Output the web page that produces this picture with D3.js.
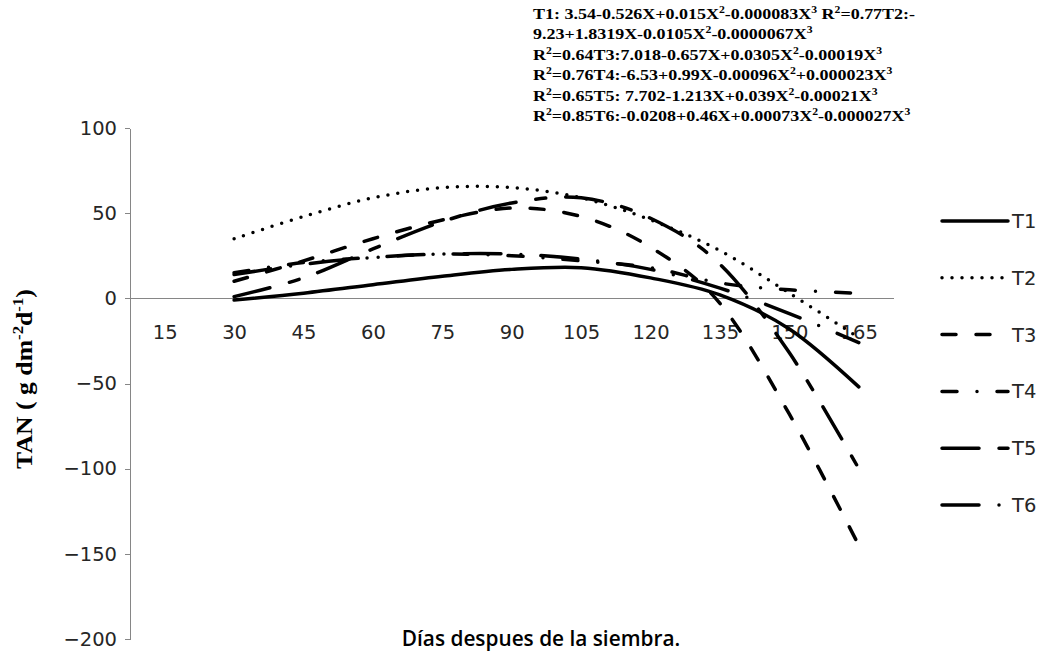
<!DOCTYPE html>
<html>
<head>
<meta charset="utf-8">
<script src="https://cdn.jsdelivr.net/npm/d3@7"></script>
<style>
body { margin: 0; background: #fff; }
svg { display: block; }
.axis path, .axis line { stroke: #868686; shape-rendering: crispEdges; }
.axis text { font-family: "DejaVu Sans", sans-serif; font-size: 19.5px; fill: #262626; }
</style>
</head>
<body>
<svg id="chart" width="1045" height="656"></svg>
<script>
// categories (dias despues de la siembra)
const dias = ['15', '30', '45', '60', '75', '90', '105', '120', '135', '150', '165'];
const yTicks = [-200, -150, -100, -50, 0, 50, 100];

// TAN values, first category has no data
const T1 = [null, -1, 3, 8, 13, 17, 18, 12, 2, -18, -52];
const T2 = [null, 35, 48, 59, 65, 65, 59, 46, 28, 3, -23];
const T3 = [null, 10, 22, 35, 46, 53, 48, 30, -3, -68, -145];
const T4 = [null, 15, 21, 24, 26, 25, 22, 18, 9, 5, 3];
const T5 = [null, 1, 12, 29, 45, 56, 59, 47, 20, -32, -100];
const T6 = [null, 14, 20, 24, 26, 26, 23, 17, 6, -9, -26];

const seriesNames = ['T1', 'T2', 'T3', 'T4', 'T5', 'T6'];
const seriesValues = [T1, T2, T3, T4, T5, T6];
const dashes = ['none', '0 10', '14 20', '15 20 0 20', '37 20 10 20', '37 20 0 20'];

const ecuaciones = [
    'T1: 3.54-0.526X+0.015X{2}-0.000083X{3} R{2}=0.77T2:-',
    '9.23+1.8319X-0.0105X{2}-0.0000067X{3}',
    'R{2}=0.64T3:7.018-0.657X+0.0305X{2}-0.00019X{3}',
    'R{2}=0.76T4:-6.53+0.99X-0.00096X{2}+0.000023X{3}',
    'R{2}=0.65T5: 7.702-1.213X+0.039X{2}-0.00021X{3}',
    'R{2}=0.85T6:-0.0208+0.46X+0.00073X{2}-0.000027X{3}'
];

const svg = d3.select('#chart');
const plotLeft = 130, plotRight = 893.5, plotTop = 128, plotBottom = 639;

const x = d3.scalePoint().domain(dias).range([plotLeft, plotRight]).padding(0.5);
const y = d3.scaleLinear().domain([-200, 100]).range([plotBottom, plotTop]);

// y axis
svg.append('g')
    .attr('class', 'axis')
    .attr('transform', `translate(${plotLeft},0)`)
    .call(d3.axisLeft(y).tickValues(yTicks).tickSize(5).tickSizeOuter(0).tickPadding(8));

// x axis on zero line
const xAxis = svg.append('g')
    .attr('class', 'axis')
    .attr('transform', `translate(0,${y(0)})`)
    .call(d3.axisBottom(x).tickSize(0).tickPadding(27));
xAxis.select('.domain').attr('d', `M${plotLeft},0.5H${plotRight}`);

// lines
const line = d3.line()
    .defined(d => d != null)
    .x((d, i) => x(dias[i]))
    .y(d => y(d))
    .curve(d3.curveCardinal.tension(0));

svg.append('g').selectAll('path')
    .data(seriesValues)
    .enter()
    .append('path')
    .attr('d', line)
    .attr('fill', 'none')
    .attr('stroke', '#000')
    .attr('stroke-width', 3.5)
    .attr('stroke-linecap', 'round')
    .attr('stroke-linejoin', 'round')
    .attr('stroke-dasharray', (d, i) => dashes[i]);

// legend
const legend = svg.append('g').selectAll('g')
    .data(seriesNames)
    .enter()
    .append('g')
    .attr('transform', (d, i) => `translate(940,${221 + i * 56.8})`);

legend.append('line')
    .attr('x1', 2).attr('x2', 68)
    .attr('stroke', '#000')
    .attr('stroke-width', 3.5)
    .attr('stroke-linecap', 'round')
    .attr('stroke-dasharray', (d, i) => dashes[i]);

legend.append('text')
    .attr('x', 72)
    .attr('dy', '0.36em')
    .style('font-family', '"DejaVu Sans", sans-serif')
    .style('font-size', '19.5px')
    .style('fill', '#262626')
    .text(d => d);

// text with superscripts written as {n}
function supText(sel, str, size) {
    const parts = str.split(/\{([^}]*)\}/);
    let raised = false;
    parts.forEach((p, k) => {
        if (p === '') return;
        const ts = sel.append('tspan').text(p);
        if (k % 2 === 1) {
            ts.attr('dy', -size * 0.4).style('font-size', (size * 0.65) + 'px');
            raised = true;
        } else if (raised) {
            ts.attr('dy', size * 0.4);
            raised = false;
        }
    });
}

// equations (stretched wide as in the original figure)
const eqG = svg.append('g').attr('transform', 'translate(533,0) scale(1.2,1)');
ecuaciones.forEach((e, i) => {
    const t = eqG.append('text')
        .attr('x', 0)
        .attr('y', 19 + i * 20.4)
        .style('font-family', '"Liberation Serif", serif')
        .style('font-weight', 'bold')
        .style('font-size', '15px')
        .style('fill', '#000');
    supText(t, e, 15);
});

// y title
const yt = svg.append('text')
    .attr('transform', 'translate(32,379) rotate(-90) scale(1.12,1)')
    .attr('text-anchor', 'middle')
    .style('font-family', '"Liberation Serif", serif')
    .style('font-weight', 'bold')
    .style('font-size', '23px')
    .style('fill', '#000');
supText(yt, 'TAN ( g dm{-2}d{-1})', 23);

// x title
svg.append('text')
    .attr('x', 541)
    .attr('y', 646)
    .attr('text-anchor', 'middle')
    .style('font-family', '"Open Sans", sans-serif')
    .style('font-weight', '600')
    .style('font-size', '20.8px')
    .style('fill', '#000')
    .text('Días despues de la siembra.');
</script>
</body>
</html>
